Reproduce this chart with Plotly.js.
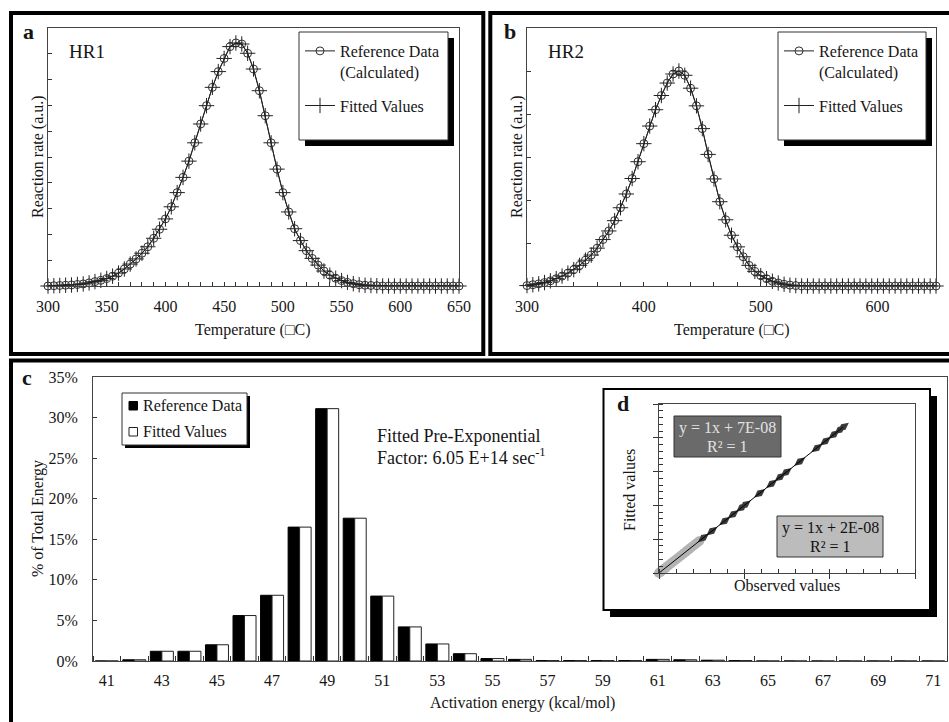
<!DOCTYPE html>
<html><head><meta charset="utf-8">
<script src="https://cdn.plot.ly/plotly-3.0.1.min.js"></script>
<style>html,body{margin:0;padding:0;background:#fff}#chart{width:949px;height:722px}</style>
</head><body><div id="chart"></div>
<script>
// ---------------- data ----------------
const tempHR1 = [300,305,310,315,320,325,330,335,340,345,350,355,360,365,370,375,380,385,390,395,400,405,410,415,420,425,430,435,440,445,450,455,460,465,470,475,480,485,490,495,500,505,510,515,520,525,530,535,540,545,550,555,560,565,570,575,580,585,590,595,600,605,610,615,620,625,630,635,640,645,650];
const rateHR1Ref = [0,0.01,0.02,0.03,0.04,0.06,0.08,0.12,0.17,0.22,0.29,0.38,0.50,0.66,0.85,1.05,1.27,1.52,1.85,2.20,2.60,3.07,3.62,4.21,4.84,5.55,6.28,6.99,7.70,8.31,8.82,9.28,9.42,9.38,9.02,8.41,7.57,6.60,5.55,4.53,3.62,2.87,2.22,1.76,1.37,1.07,0.81,0.58,0.42,0.30,0.21,0.14,0.09,0.05,0.03,0.02,0.01,0,0,0,0,0,0,0,0,0,0,0,0,0,0];
const rateHR1Fit = [0,0.01,0.02,0.03,0.04,0.06,0.08,0.12,0.17,0.22,0.29,0.38,0.50,0.66,0.85,1.05,1.27,1.52,1.85,2.20,2.60,3.07,3.62,4.21,4.84,5.55,6.28,6.99,7.70,8.31,8.82,9.28,9.42,9.38,9.02,8.41,7.57,6.60,5.55,4.53,3.62,2.87,2.22,1.76,1.37,1.07,0.81,0.58,0.42,0.30,0.21,0.14,0.09,0.05,0.03,0.02,0.01,0,0,0,0,0,0,0,0,0,0,0,0,0,0];

const tempHR2 = [300,305,310,315,320,325,330,335,340,345,350,355,360,365,370,375,380,385,390,395,400,405,410,415,420,425,430,435,440,445,450,455,460,465,470,475,480,485,490,495,500,505,510,515,520,525,530,535,540,545,550,555,560,565,570,575,580,585,590,595,600,605,610,615,620,625,630,635,640,645,650];
const rateHR2Ref = [0.01,0.03,0.05,0.08,0.12,0.17,0.23,0.30,0.38,0.48,0.60,0.72,0.88,1.08,1.28,1.52,1.82,2.14,2.50,2.89,3.31,3.72,4.10,4.43,4.72,4.93,5.00,4.90,4.60,4.19,3.66,3.06,2.49,1.96,1.54,1.18,0.91,0.68,0.48,0.34,0.24,0.17,0.11,0.07,0.04,0.02,0.01,0,0,0,0,0,0,0,0,0,0,0,0,0,0,0,0,0,0,0,0,0,0,0,0];
const rateHR2Fit = [0.01,0.03,0.05,0.08,0.12,0.17,0.23,0.30,0.38,0.48,0.60,0.72,0.88,1.08,1.28,1.52,1.82,2.14,2.50,2.89,3.31,3.72,4.10,4.43,4.72,4.93,5.00,4.90,4.60,4.19,3.66,3.06,2.49,1.96,1.54,1.18,0.91,0.68,0.48,0.34,0.24,0.17,0.11,0.07,0.04,0.02,0.01,0,0,0,0,0,0,0,0,0,0,0,0,0,0,0,0,0,0,0,0,0,0,0,0];

const energyCats = [41,42,43,44,45,46,47,48,49,50,51,52,53,54,55,56,57,58,59,60,61,62,63,64,65,66,67,68,69,70,71];
const energyRef  = [0,0.15,1.2,1.2,2.0,5.6,8.1,16.5,31.1,17.6,8.0,4.2,2.1,0.9,0.3,0.2,0.05,0.05,0.05,0.05,0.2,0.15,0.1,0.05,0,0,0,0,0,0,0];
const energyFit  = [0,0.15,1.2,1.2,2.0,5.6,8.1,16.5,31.1,17.6,8.0,4.2,2.1,0.9,0.3,0.2,0.05,0.05,0.05,0.05,0.2,0.15,0.1,0.05,0,0,0,0,0,0,0];
const energyTickVals = [41,43,45,47,49,51,53,55,57,59,61,63,65,67,69,71];

const obsDark = [0.052,0.062,0.077,0.087,0.097,0.101,0.118,0.132,0.142,0.149,0.165,0.185,0.195,0.205,0.212,0.216];
const fitDark = [0.052,0.062,0.077,0.087,0.097,0.101,0.118,0.132,0.142,0.149,0.165,0.185,0.195,0.205,0.212,0.216];
const obsLight = [0,0.002,0.004,0.006,0.008,0.011,0.014,0.017,0.020,0.023,0.026,0.029,0.032,0.035,0.038,0.041,0.044,0.047];
const fitLight = [0,0.002,0.004,0.006,0.008,0.011,0.014,0.017,0.020,0.023,0.026,0.029,0.032,0.035,0.038,0.041,0.044,0.047];
const eqDark  = ["y = 1x + 7E-08", "R² = 1"];
const eqLight = ["y = 1x + 2E-08", "R² = 1"];

// ---------------- helpers ----------------
const W = 949, H = 722;
const fx = x => x / W;
const fy = y => 1 - y / H;
const FONT = "Liberation Serif, Times New Roman, serif";
const INK = "#151515";

function rect(x0, y0, x1, y1, o) {
  return Object.assign({type: "rect", xref: "paper", yref: "paper",
    x0: fx(x0), x1: fx(x1), y0: fy(y1), y1: fy(y0), layer: "above"}, o);
}
function ann(text, x, y, o) {
  return Object.assign({text: text, xref: "paper", yref: "paper", x: fx(x), y: fy(y),
    showarrow: false, xanchor: "center", yanchor: "middle",
    font: {family: FONT, size: 16, color: INK}}, o);
}

// ---------------- traces ----------------
const lineStyle = {color: "#222", width: 1};
const circ = {symbol: "circle-open", size: 8, color: "#333", line: {width: 1}};
const plus = {symbol: "cross-thin-open", size: 11, color: "#222", line: {width: 1, color: "#222"}};

const traces = [
  {x: tempHR1, y: rateHR1Ref, xaxis: "x", yaxis: "y", mode: "lines+markers", name: "Reference Data<br>(Calculated)",
   line: lineStyle, marker: circ, cliponaxis: false, legend: "legend", legendgroup: "r1"},
  {x: tempHR1, y: rateHR1Fit, xaxis: "x", yaxis: "y", mode: "lines+markers", name: "Fitted Values",
   line: lineStyle, marker: plus, cliponaxis: false, legend: "legend", legendgroup: "f1"},
  {x: tempHR2, y: rateHR2Ref, xaxis: "x2", yaxis: "y2", mode: "lines+markers", name: "Reference Data<br>(Calculated)",
   line: lineStyle, marker: circ, cliponaxis: false, legend: "legend2", legendgroup: "r2"},
  {x: tempHR2, y: rateHR2Fit, xaxis: "x2", yaxis: "y2", mode: "lines+markers", name: "Fitted Values",
   line: lineStyle, marker: plus, cliponaxis: false, legend: "legend2", legendgroup: "f2"},
  {type: "bar", x: energyCats, y: energyRef, xaxis: "x3", yaxis: "y3", name: "Reference Data", showlegend: false,
   marker: {color: "#000", line: {color: "#000", width: 1}}},
  {type: "bar", x: energyCats, y: energyFit, xaxis: "x3", yaxis: "y3", name: "Fitted Values", showlegend: false,
   marker: {color: "#fff", line: {color: "#222", width: 1}}},
  {x: obsLight, y: fitLight, xaxis: "x4", yaxis: "y4", mode: "markers", showlegend: false, cliponaxis: false,
   marker: {color: "#b3b3b3", size: 10}},
  {x: obsDark, y: fitDark, xaxis: "x4", yaxis: "y4", mode: "markers", showlegend: false, cliponaxis: false,
   marker: {symbol: "diamond-wide", size: 10, color: "#3a3a3a", angle: -38}},
  {x: [obsLight[0], obsDark[obsDark.length - 1]], y: [fitLight[0], fitDark[fitDark.length - 1]],
   xaxis: "x4", yaxis: "y4", mode: "lines", showlegend: false, cliponaxis: false, line: {color: "#000", width: 1}}
];

// ---------------- axes ----------------
const tickFont = {family: FONT, size: 16, color: INK};
const baseAx = {showgrid: false, zeroline: false, showline: true, mirror: true, linecolor: "#444", linewidth: 1,
  tickcolor: "#333", tickfont: tickFont, fixedrange: true};

const layout = {
  width: W, height: H, margin: {l: 0, r: 0, t: 0, b: 0},
  paper_bgcolor: "#fff", plot_bgcolor: "rgba(0,0,0,0)",
  font: {family: FONT, color: INK},
  barmode: "group", bargap: 0.165, bargroupgap: 0,
  showlegend: true,
  xaxis: Object.assign({}, baseAx, {domain: [fx(48), fx(459)], anchor: "y", range: [300, 650],
    tickmode: "linear", tick0: 300, dtick: 50, ticks: "inside", ticklen: 4, ticklabelstandoff: 6,
    minor: {tickmode: "linear", tick0: 300, dtick: 10, ticks: "inside", ticklen: 4, tickcolor: "#333"}}),
  yaxis: Object.assign({}, baseAx, {domain: [fy(286), fy(28)], anchor: "x", range: [0, 10],
    tickmode: "linear", tick0: 0, dtick: 1, ticks: "inside", ticklen: 4, showticklabels: false}),
  xaxis2: Object.assign({}, baseAx, {domain: [fx(527), fx(936)], anchor: "y2", range: [300, 650],
    tickmode: "linear", tick0: 300, dtick: 100, ticks: "inside", ticklen: 4, ticklabelstandoff: 6,
    minor: {tickmode: "linear", tick0: 300, dtick: 20, ticks: "inside", ticklen: 4, tickcolor: "#333"}}),
  yaxis2: Object.assign({}, baseAx, {domain: [fy(286), fy(28)], anchor: "x2", range: [0, 6],
    tickmode: "linear", tick0: 0, dtick: 1, ticks: "inside", ticklen: 4, showticklabels: false}),
  xaxis3: Object.assign({}, baseAx, {domain: [fx(93), fx(947)], anchor: "y3", range: [40.5, 71.5],
    tickmode: "array", tickvals: energyTickVals, ticktext: energyTickVals.map(String), ticks: "", ticklabelstandoff: 5,
    minor: {tickmode: "linear", tick0: 40.5, dtick: 1, ticks: "inside", ticklen: 5, tickcolor: "#333"}}),
  yaxis3: Object.assign({}, baseAx, {domain: [fy(661), fy(377)], anchor: "x3", range: [0, 35],
    tickmode: "linear", tick0: 0, dtick: 5, ticksuffix: "%", ticks: "inside", ticklen: 4, ticklabelstandoff: 11}),
  xaxis4: Object.assign({}, baseAx, {domain: [fx(659), fx(915)], anchor: "y4", range: [0, 0.3],
    tickmode: "linear", tick0: 0, dtick: 0.1, ticks: "outside", ticklen: 5, showticklabels: false,
    minor: {tickmode: "linear", tick0: 0, dtick: 0.02, ticks: "inside", ticklen: 4, tickcolor: "#333"}}),
  yaxis4: Object.assign({}, baseAx, {domain: [fy(573), fy(404)], anchor: "x4", range: [0, 0.25],
    tickmode: "linear", tick0: 0, dtick: 0.05, ticks: "outside", ticklen: 5, showticklabels: false,
    minor: {tickmode: "linear", tick0: 0, dtick: 0.01, ticks: "inside", ticklen: 4, tickcolor: "#333"}}),
  legend: {x: fx(300), y: fy(34), xanchor: "left", yanchor: "top", bgcolor: "rgba(0,0,0,0)", borderwidth: 0,
    font: {family: FONT, size: 16, color: INK}, valign: "top", itemwidth: 30, traceorder: "grouped", tracegroupgap: 10},
  legend2: {x: fx(779), y: fy(34), xanchor: "left", yanchor: "top", bgcolor: "rgba(0,0,0,0)", borderwidth: 0,
    font: {family: FONT, size: 16, color: INK}, valign: "top", itemwidth: 30, traceorder: "grouped", tracegroupgap: 10},
  shapes: [
    // outer panel frames
    rect(11, 13, 483.3, 354, {line: {color: "#000", width: 4}}),
    rect(490.3, 13, 960, 354, {line: {color: "#000", width: 4}}),
    rect(11, 360.5, 960, 745, {line: {color: "#000", width: 4}}),
    // legend boxes a, b (shadow + box)
    rect(305, 38, 454, 146, {fillcolor: "#000", line: {width: 0}}),
    rect(299, 32, 448, 140, {fillcolor: "#fff", line: {color: "#333", width: 1}}),
    rect(784, 38, 932, 146, {fillcolor: "#000", line: {width: 0}}),
    rect(778, 32, 926, 140, {fillcolor: "#fff", line: {color: "#333", width: 1}}),
    // legend box c
    rect(125, 396, 250, 448, {fillcolor: "#000", line: {width: 0}}),
    rect(122, 393, 247, 445, {fillcolor: "#fff", line: {color: "#333", width: 1}}),
    rect(129, 401.5, 137.5, 410, {fillcolor: "#000", line: {color: "#000", width: 1}}),
    rect(129, 427.5, 137.5, 436, {fillcolor: "#fff", line: {color: "#222", width: 1}}),
    // inset d box
    rect(610, 396, 937, 617, {fillcolor: "#000", line: {width: 0}, layer: "below"}),
    rect(603.5, 389, 930, 610, {fillcolor: "#fff", line: {color: "#000", width: 2}, layer: "below"}),
    // equation boxes
    rect(674, 416, 781, 457, {fillcolor: "#6a6a6a", line: {color: "#333", width: 1}}),
    rect(777, 516, 883, 557, {fillcolor: "#bcbcbc", line: {color: "#333", width: 1}})
  ],
  annotations: [
    ann("<b>a</b>", 28, 31, {font: {family: FONT, size: 22, color: INK}}),
    ann("<b>b</b>", 510, 31, {font: {family: FONT, size: 22, color: INK}}),
    ann("<b>c</b>", 27, 377, {font: {family: FONT, size: 22, color: INK}}),
    ann("<b>d</b>", 623, 403, {font: {family: FONT, size: 22, color: INK}}),
    ann("HR1", 67, 52, {xanchor: "left", font: {family: FONT, size: 19, color: INK}}),
    ann("HR2", 546, 52, {xanchor: "left", font: {family: FONT, size: 19, color: INK}}),
    ann("Temperature (□C)", 253, 330),
    ann("Temperature (□C)", 732, 330),
    ann("Reaction rate (a.u.)", 38, 157, {textangle: -90}),
    ann("Reaction rate (a.u.)", 517, 157, {textangle: -90}),
    ann("% of Total Energy", 38, 519, {textangle: -90}),
    ann("Activation energy (kcal/mol)", 522, 703),
    ann("Reference Data", 141, 405.5, {xanchor: "left"}),
    ann("Fitted Values", 141, 431.5, {xanchor: "left"}),
    ann("Fitted Pre-Exponential", 375, 436, {xanchor: "left", font: {family: FONT, size: 18, color: INK}}),
    ann("Factor: 6.05 E+14 sec<sup>-1</sup>", 375, 457, {xanchor: "left", font: {family: FONT, size: 18, color: INK}}),
    ann("Fitted values", 630, 490, {textangle: -90}),
    ann("Observed values", 787, 585),
    ann(eqDark[0], 727.5, 428, {font: {family: FONT, size: 16, color: "#e2e2e2"}}),
    ann(eqDark[1], 727.5, 446.5, {font: {family: FONT, size: 16, color: "#e2e2e2"}}),
    ann(eqLight[0], 830, 528, {font: {family: FONT, size: 16, color: "#111"}}),
    ann(eqLight[1], 830, 546.5, {font: {family: FONT, size: 16, color: "#111"}})
  ]
};

Plotly.newPlot("chart", traces, layout, {displayModeBar: false, staticPlot: true});
</script>
</body></html>
